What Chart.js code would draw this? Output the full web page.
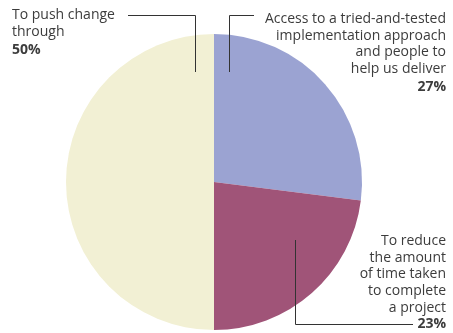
<!DOCTYPE html>
<html>
<head>
<meta charset="utf-8">
<script src="https://cdn.jsdelivr.net/npm/chart.js@4/dist/chart.umd.min.js"></script>
<style>
  html, body { margin: 0; padding: 0; background: #ffffff; }
  #wrap { position: relative; width: 453px; height: 333px; }
</style>
</head>
<body>
<div id="wrap"><canvas id="c" width="453" height="333"></canvas></div>
<script>
// ---- data ----
const categories = [
  'Access to a tried-and-tested implementation approach and people to help us deliver',
  'To reduce the amount of time taken to complete a project',
  'To push change through'
];
const values = [27, 23, 50];
const labelLines = [
  ['Access to a tried-and-tested', 'implementation approach', 'and people to', 'help us deliver'],
  ['To reduce', 'the amount', 'of time taken', 'to complete', 'a project'],
  ['To push change', 'through']
];
const valueLabels = ['27%', '23%', '50%'];
const colors = ['#9ba3d2', '#a05478', '#f2f0d4'];

const TEXT = '#3c3c3c';
const FONT = '"Open Sans", "DejaVu Sans", sans-serif';

const labelPlugin = {
  id: 'leaderLabels',
  afterDraw(chart) {
    const ctx = chart.ctx;
    const arcs = chart.getDatasetMeta(0).data;
    const a0 = arcs[0];
    const cx = a0.x, cy = a0.y, R = a0.outerRadius;
    ctx.save();
    ctx.fillStyle = TEXT;
    ctx.strokeStyle = '#333333';
    ctx.lineWidth = 1;
    ctx.textBaseline = 'middle';
    const lh = 16.7;
    const fs = 14;

    // Slice 0 (blue) – top right label
    ctx.textAlign = 'right';
    const xr = 446;
    let y0 = 19;
    ctx.font = fs + 'px ' + FONT;
    labelLines[0].forEach((t, i) => ctx.fillText(t, xr, y0 + i * lh));
    ctx.font = 'bold ' + fs + 'px ' + FONT;
    ctx.fillText(valueLabels[0], xr, y0 + 4 * lh + 1);
    const bx = Math.round(cx + 0.10 * R) + 0.5;
    const by = Math.round(cy - 0.74 * R);
    ctx.beginPath();
    ctx.moveTo(254, 15.5);
    ctx.lineTo(bx, 15.5);
    ctx.lineTo(bx, by);
    ctx.stroke();

    // Slice 1 (maroon) – bottom right label
    let y1 = 241;
    ctx.font = fs + 'px ' + FONT;
    labelLines[1].forEach((t, i) => ctx.fillText(t, xr, y1 + i * lh));
    ctx.font = 'bold ' + fs + 'px ' + FONT;
    ctx.fillText(valueLabels[1], xr, y1 + 5 * lh);
    const mx = Math.round(cx + 0.55 * R) + 0.5;
    const my = Math.round(cy + 0.39 * R);
    ctx.beginPath();
    ctx.moveTo(mx, my);
    ctx.lineTo(mx, 324.5);
    ctx.lineTo(413, 324.5);
    ctx.stroke();

    // Slice 2 (cream) – top left label
    ctx.textAlign = 'left';
    const xl = 12;
    let y2 = 15;
    ctx.font = fs + 'px ' + FONT;
    labelLines[2].forEach((t, i) => ctx.fillText(t, xl, y2 + i * lh));
    ctx.font = 'bold ' + fs + 'px ' + FONT;
    ctx.fillText(valueLabels[2], xl, y2 + 2 * lh + 2);
    const lx = Math.round(cx - 0.13 * R) + 0.5;
    ctx.beginPath();
    ctx.moveTo(128, 15.5);
    ctx.lineTo(lx, 15.5);
    ctx.lineTo(lx, by);
    ctx.stroke();

    ctx.restore();
  }
};

new Chart(document.getElementById('c'), {
  type: 'pie',
  data: {
    labels: categories,
    datasets: [{
      data: values,
      backgroundColor: colors,
      borderWidth: 0,
      hoverOffset: 0
    }]
  },
  options: {
    responsive: false,
    animation: false,
    events: [],
    layout: { padding: { left: 66, right: 91, top: 34, bottom: 3 } },
    plugins: {
      legend: { display: false },
      tooltip: { enabled: false }
    }
  },
  plugins: [labelPlugin]
});
</script>
</body>
</html>
